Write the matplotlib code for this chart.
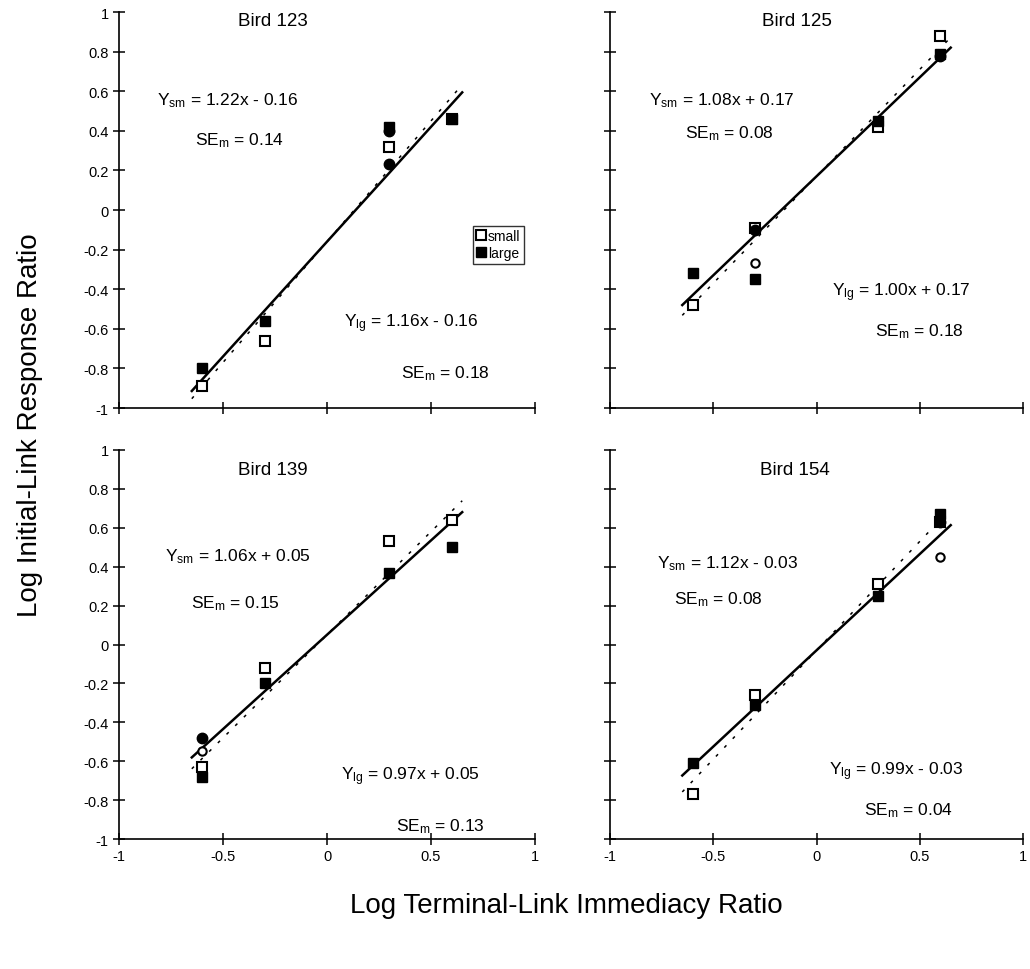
import matplotlib
matplotlib.use("Agg")
import matplotlib.pyplot as plt
import numpy as np

plt.rcParams['font.family'] = ['Liberation Sans', 'DejaVu Sans']
plt.rcParams['mathtext.fontset'] = 'custom'
plt.rcParams['mathtext.rm'] = 'Liberation Sans'
plt.rcParams['mathtext.it'] = 'Liberation Sans'

# ---- data ----
birds = ["Bird 123", "Bird 125", "Bird 139", "Bird 154"]
x_vals = [-0.6, -0.3, 0.3, 0.6]

small_123 = [-0.89, -0.66, 0.32, 0.46]
large_123 = [-0.80, -0.56, 0.42, 0.46]
small_125 = [-0.48, -0.09, 0.42, 0.88]
large_125 = [-0.32, -0.35, 0.45, 0.79]
small_139 = [-0.63, -0.12, 0.53, 0.64]
large_139 = [-0.68, -0.20, 0.37, 0.50]
small_154 = [-0.77, -0.26, 0.31, 0.63]
large_154 = [-0.61, -0.31, 0.25, 0.67]
small_series = [small_123, small_125, small_139, small_154]
large_series = [large_123, large_125, large_139, large_154]

# replication points (circles)
open_circ_x = [[], [-0.3], [-0.6], [0.6]]
open_circ_y = [[], [-0.27], [-0.55], [0.45]]
fill_circ_x = [[0.3, 0.3], [-0.3, 0.6], [-0.6], [0.6]]
fill_circ_y = [[0.23, 0.40], [-0.10, 0.78], [-0.48], [0.63]]

# regression fits
slope_sm = [1.22, 1.08, 1.06, 1.12]
icept_sm = [-0.16, 0.17, 0.05, -0.03]
slope_lg = [1.16, 1.00, 0.97, 0.99]
icept_lg = [-0.16, 0.17, 0.05, -0.03]
se_sm = ["0.14", "0.08", "0.15", "0.08"]
se_lg = ["0.18", "0.18", "0.13", "0.04"]
fit_range = [-0.65, 0.65]

xticks = [-1, -0.5, 0, 0.5, 1]
xticklabels = ["-1", "-0.5", "0", "0.5", "1"]
yticks = [-1, -0.8, -0.6, -0.4, -0.2, 0, 0.2, 0.4, 0.6, 0.8, 1]
yticklabels = ["-1", "-0.8", "-0.6", "-0.4", "-0.2", "0", "0.2", "0.4", "0.6", "0.8", "1"]

# ---- text positions (data coords) ----
title_pos = [(-0.26, 0.955), (-0.095, 0.955), (-0.26, 0.90), (-0.105, 0.90)]
eqsm_pos = [(-0.48, 0.557), (-0.46, 0.557), (-0.43, 0.455), (-0.43, 0.42)]
sesm_pos = [(-0.42, 0.355), (-0.42, 0.39), (-0.44, 0.213), (-0.475, 0.234)]
eqlg_pos = [(0.407, -0.57), (0.41, -0.415), (0.40, -0.676), (0.386, -0.65)]
selg_pos = [(0.571, -0.82), (0.50, -0.61), (0.547, -0.93), (0.444, -0.85)]

W, H = 1030, 970
fig = plt.figure(figsize=(W / 100, H / 100), dpi=100)

ax_rects = [
    (119 / W, 1 - 409 / H, 416 / W, 396 / H),
    (610 / W, 1 - 409 / H, 413 / W, 396 / H),
    (119 / W, 1 - 840 / H, 416 / W, 389 / H),
    (610 / W, 1 - 840 / H, 413 / W, 389 / H),
]

def fmt(v):
    s = f"{abs(v):.2f}"
    return ("+ " if v >= 0 else "- ") + s

for i in range(4):
    ax = fig.add_axes(ax_rects[i])
    ax.set_xlim(-1, 1)
    ax.set_ylim(-1, 1)
    for s in ['top', 'right']:
        ax.spines[s].set_visible(False)
    for s in ['left', 'bottom']:
        ax.spines[s].set_linewidth(1.2)
    ax.set_xticks(xticks)
    ax.set_yticks(yticks)
    ax.tick_params(direction='inout', length=9, width=1.1, labelsize=10.5, pad=3)
    if i >= 2:
        ax.set_xticklabels(xticklabels)
    else:
        ax.set_xticklabels([])
    if i % 2 == 0:
        ax.set_yticklabels(yticklabels)
    else:
        ax.set_yticklabels([])
    ax.patch.set_alpha(0)

    xs = np.array(fit_range)
    ax.plot(xs, slope_sm[i] * xs + icept_sm[i], color='black', lw=1.1,
            linestyle=(0, (2, 6)), zorder=2)
    ax.plot(xs, slope_lg[i] * xs + icept_lg[i], color='black', lw=1.8,
            linestyle='-', zorder=2)

    ax.plot(x_vals, small_series[i], linestyle='none', marker='s', ms=7.5,
            mfc='white', mec='black', mew=1.5, zorder=3, label='small')
    ax.plot(fill_circ_x[i], fill_circ_y[i], linestyle='none', marker='o', ms=7.5,
            mfc='black', mec='black', zorder=4)
    ax.plot(x_vals, large_series[i], linestyle='none', marker='s', ms=7.5,
            mfc='black', mec='black', mew=1.0, zorder=4, label='large')
    ax.plot(open_circ_x[i], open_circ_y[i], linestyle='none', marker='o', ms=6,
            mfc='white', mec='black', mew=1.5, zorder=4)

    ax.text(*title_pos[i], birds[i], ha='center', va='center', fontsize=13.5)
    ax.text(*eqsm_pos[i], r"Y$_{\mathrm{sm}}$ = " + f"{slope_sm[i]:.2f}x " + fmt(icept_sm[i]),
            ha='center', va='center', fontsize=12.5)
    ax.text(*sesm_pos[i], r"SE$_{\mathrm{m}}$ = " + se_sm[i], ha='center', va='center', fontsize=12.5)
    ax.text(*eqlg_pos[i], r"Y$_{\mathrm{lg}}$ = " + f"{slope_lg[i]:.2f}x " + fmt(icept_lg[i]),
            ha='center', va='center', fontsize=12.5)
    ax.text(*selg_pos[i], r"SE$_{\mathrm{m}}$ = " + se_lg[i], ha='center', va='center', fontsize=12.5)

    if i == 0:
        leg = ax.legend(loc='upper left', bbox_to_anchor=(0.852, 0.46), fontsize=10,
                        frameon=True, fancybox=False, handlelength=0.6, handletextpad=0.2,
                        borderpad=0.25, labelspacing=0.2, borderaxespad=0, markerscale=0.9)
        leg.get_frame().set_edgecolor('black')
        leg.get_frame().set_linewidth(1.0)

fig.text(0.55, 1 - 906 / H, "Log Terminal-Link Immediacy Ratio", ha='center', va='center', fontsize=20)
fig.text(30 / W, 1 - 425 / H, "Log Initial-Link Response Ratio", ha='center', va='center',
         rotation=90, fontsize=20)

fig.savefig("out.png", dpi=100)
